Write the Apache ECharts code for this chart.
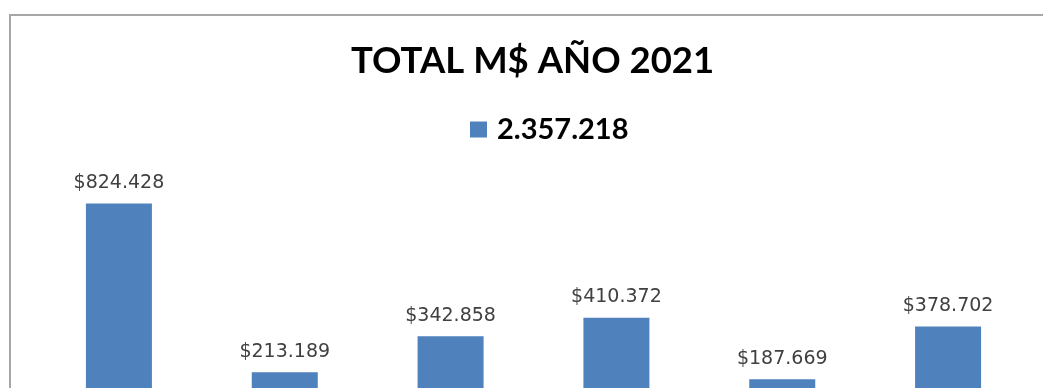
<!DOCTYPE html>
<html>
<head>
<meta charset="utf-8">
<script src="https://cdn.jsdelivr.net/npm/echarts@6/dist/echarts.min.js"></script>
<style>
  html, body { margin: 0; padding: 0; background: #ffffff; overflow: hidden; width: 1043px; height: 388px; }
  #chart { width: 1043px; height: 480px; }
</style>
</head>
<body>
<div id="chart"></div>
<script>
// Montos por periodo, en M$
const categories = ['Ene-Feb', 'Mar-Abr', 'May-Jun', 'Jul-Ago', 'Sep-Oct', 'Nov-Dic'];
const montos = [824428, 213189, 342858, 410372, 187669, 378702];
const titulo = 'TOTAL M$ AÑO 2021';

// Formato con punto como separador de miles
function miles(v) {
  return String(Math.round(v)).replace(/\B(?=(\d{3})+(?!\d))/g, '.');
}
const total = montos.reduce((a, b) => a + b, 0);
const serieNombre = miles(total);

const fontTitle = 'Lato, "Open Sans", "Liberation Sans", sans-serif';
const fontLabel = '"DejaVu Sans", "Liberation Sans", sans-serif';

const chart = echarts.init(document.getElementById('chart'), null, { renderer: 'canvas' });
chart.setOption({
  backgroundColor: '#ffffff',
  animation: false,
  title: {
    text: titulo,
    left: 346,
    top: 38,
    textStyle: { fontFamily: fontTitle, fontWeight: 'bold', fontSize: 36.5, color: '#000000' }
  },
  legend: {
    data: [serieNombre],
    left: 465,
    top: 110,
    itemWidth: 17,
    itemHeight: 16,
    icon: 'rect',
    textStyle: {
      fontFamily: fontTitle, fontWeight: 'bold', fontSize: 29, color: '#000000',
      padding: [0, 0, 0, 5]
    }
  },
  graphic: [{
    type: 'rect',
    shape: { x: 10, y: 15, width: 1100, height: 500 },
    style: { fill: 'none', stroke: '#a6a6a6', lineWidth: 2 },
    silent: true
  }],
  grid: { left: 36, top: 155, width: 995, height: 276 },
  xAxis: {
    type: 'category',
    data: categories,
    axisLine: { show: true, lineStyle: { color: '#bfbfbf' } },
    axisTick: { show: false },
    axisLabel: { show: false }
  },
  yAxis: {
    type: 'value',
    min: 0,
    max: 1000000,
    show: false,
    splitLine: { show: false }
  },
  series: [{
    name: serieNombre,
    type: 'bar',
    data: montos,
    barWidth: 66,
    itemStyle: { color: '#4f81bd' },
    label: {
      show: true,
      position: 'top',
      distance: 11,
      formatter: p => '$' + miles(p.value),
      fontFamily: fontLabel,
      fontSize: 19,
      color: '#404040'
    }
  }]
});
</script>
</body>
</html>
